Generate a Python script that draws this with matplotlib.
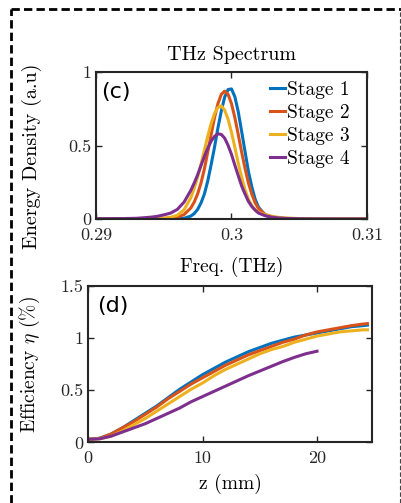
import matplotlib
matplotlib.use('Agg')
import matplotlib.pyplot as plt
from matplotlib.lines import Line2D

plt.rcParams['font.family'] = 'cmr10'
plt.rcParams['mathtext.fontset'] = 'cm'
plt.rcParams['axes.formatter.use_mathtext'] = True

# THz spectrum (panel c)
freq = [0.290, 0.292, 0.293, 0.294, 0.2945, 0.295, 0.2955, 0.296, 0.2965, 0.297,
        0.29725, 0.2975, 0.29775, 0.298, 0.29825, 0.2985, 0.29875, 0.299, 0.29925, 0.2995,
        0.29975, 0.300, 0.30025, 0.3005, 0.30075, 0.301, 0.30125, 0.3015, 0.30175, 0.302,
        0.3025, 0.303, 0.3035, 0.304, 0.305, 0.306, 0.308, 0.310]
stage1 = [0, 0, 0, 0, 0, 0, 0, 0.001, 0.005, 0.02,
          0.037, 0.065, 0.109, 0.17, 0.259, 0.37, 0.489, 0.62, 0.735, 0.83,
          0.881, 0.885, 0.832, 0.73, 0.596, 0.46, 0.324, 0.22, 0.134, 0.08,
          0.025, 0.01, 0.005, 0.002, 0, 0, 0, 0]
stage2 = [0, 0, 0, 0.001, 0.002, 0.003, 0.006, 0.012, 0.03, 0.075,
          0.115, 0.17, 0.245, 0.34, 0.456, 0.575, 0.69, 0.785, 0.848, 0.87,
          0.848, 0.785, 0.69, 0.575, 0.456, 0.345, 0.245, 0.17, 0.11, 0.07,
          0.03, 0.015, 0.008, 0.004, 0.001, 0, 0, 0]
stage3 = [0, 0, 0.001, 0.003, 0.004, 0.006, 0.012, 0.025, 0.062, 0.145,
          0.21, 0.285, 0.371, 0.467, 0.563, 0.65, 0.718, 0.76, 0.77, 0.74,
          0.679, 0.59, 0.488, 0.38, 0.285, 0.20, 0.135, 0.09, 0.063, 0.045,
          0.028, 0.018, 0.011, 0.007, 0.003, 0.001, 0, 0]
stage4 = [0.002, 0.003, 0.005, 0.012, 0.018, 0.028, 0.04, 0.065, 0.115, 0.195,
          0.245, 0.30, 0.364, 0.425, 0.482, 0.53, 0.562, 0.58, 0.575, 0.55,
          0.501, 0.44, 0.366, 0.295, 0.225, 0.17, 0.12, 0.085, 0.06, 0.04,
          0.022, 0.012, 0.007, 0.004, 0.002, 0.001, 0, 0]

# efficiency vs z (panel d)
z = [0, 1, 2, 3, 4, 5, 6, 7, 8, 9, 10, 11, 12, 13, 14, 15, 16, 17, 18, 19,
     20, 21, 22, 23, 24, 24.4]
z4 = z[:21]
eff1 = [0.03, 0.04, 0.08, 0.14, 0.21, 0.28, 0.35, 0.43, 0.51, 0.58, 0.65, 0.71,
        0.77, 0.82, 0.87, 0.91, 0.95, 0.98, 1.01, 1.03, 1.05, 1.07, 1.09, 1.11,
        1.12, 1.125]
eff2 = [0.03, 0.04, 0.08, 0.14, 0.20, 0.27, 0.34, 0.42, 0.49, 0.56, 0.62, 0.68,
        0.74, 0.79, 0.84, 0.88, 0.92, 0.96, 0.99, 1.03, 1.06, 1.08, 1.10, 1.12,
        1.135, 1.14]
eff3 = [0.03, 0.035, 0.06, 0.11, 0.17, 0.23, 0.30, 0.37, 0.44, 0.51, 0.57, 0.64,
        0.70, 0.75, 0.80, 0.85, 0.89, 0.92, 0.96, 0.99, 1.02, 1.04, 1.06, 1.07,
        1.08, 1.08]
eff4 = [0.03, 0.035, 0.06, 0.10, 0.14, 0.18, 0.23, 0.28, 0.33, 0.39, 0.44, 0.49,
        0.54, 0.59, 0.64, 0.685, 0.73, 0.775, 0.815, 0.85, 0.875]

labels = ['Stage 1', 'Stage 2', 'Stage 3', 'Stage 4']
colors = ['#0072BD', '#D95319', '#EDB120', '#7E2F8E']

fig = plt.figure(figsize=(4.02, 5.03), dpi=100)
ax1 = fig.add_axes([0.2388, 0.5646, 0.674, 0.2922])
ax2 = fig.add_axes([0.2189, 0.1203, 0.7065, 0.3111])

for s, c, lab in zip([stage1, stage2, stage3, stage4], colors, labels):
    ax1.plot(freq, s, color=c, lw=2.2, label=lab)
ax1.set_xlim(0.29, 0.31)
ax1.set_ylim(0, 1)
ax1.set_xticks([0.29, 0.30, 0.31], ['0.29', '0.3', '0.31'])
ax1.set_yticks([0, 0.5, 1], ['0', '0.5', '1'])
ax1.set_title('THz Spectrum', fontsize=14.5, pad=9)
ax1.set_xlabel('Freq. (THz)', fontsize=14)
ax1.set_ylabel('Energy Density (a.u)', fontsize=14.5)
ax1.xaxis.set_label_coords(0.5, -0.259)
ax1.yaxis.set_label_coords(-0.199, 0.43)
ax1.text(0.018, 0.864, '(c)', transform=ax1.transAxes, fontsize=16,
         family='DejaVu Sans', va='center')
ax1.legend(loc='upper right', bbox_to_anchor=(0.98, 1.02), frameon=False,
           fontsize=14, handlelength=0.8, handletextpad=0.1,
           labelspacing=0.26, borderaxespad=0.2)

ax2.plot(z, eff1, color=colors[0], lw=2.2)
ax2.plot(z, eff2, color=colors[1], lw=2.2)
ax2.plot(z, eff3, color=colors[2], lw=2.2)
ax2.plot(z4, eff4, color=colors[3], lw=2.2)
ax2.set_xlim(0, 24.8)
ax2.set_ylim(0, 1.5)
ax2.set_xticks([0, 10, 20], ['0', '10', '20'])
ax2.set_yticks([0, 0.5, 1, 1.5], ['0', '0.5', '1', '1.5'])
ax2.set_xlabel('z (mm)', fontsize=14)
ax2.set_ylabel(r'Efficiency $\eta$ (%)', fontsize=14)
ax2.xaxis.set_label_coords(0.5, -0.201)
ax2.yaxis.set_label_coords(-0.162, 0.5)
ax2.text(0.033, 0.872, '(d)', transform=ax2.transAxes, fontsize=16,
         family='DejaVu Sans', va='center')

for ax in [ax1, ax2]:
    ax.tick_params(direction='in', top=True, right=True, length=4, width=1,
                   labelsize=13, colors='#262626')
    ax.tick_params(axis='x', pad=6)
    for sp in ax.spines.values():
        sp.set_linewidth(1.5)
        sp.set_color('#262626')

# dashed frame around the panel
fig.add_artist(Line2D([11 / 402, 11 / 402], [0, 1 - 9 / 503], transform=fig.transFigure,
                      color='black', lw=2, dashes=(3, 1.5)))
fig.add_artist(Line2D([11 / 402, 1], [1 - 9 / 503, 1 - 9 / 503], transform=fig.transFigure,
                      color='black', lw=2, dashes=(3, 1.5)))
fig.add_artist(Line2D([400 / 402, 400 / 402], [0, 1 - 9 / 503], transform=fig.transFigure,
                      color='#444444', lw=0.8, dashes=(4, 2)))

fig.savefig('out.png', dpi=100)
